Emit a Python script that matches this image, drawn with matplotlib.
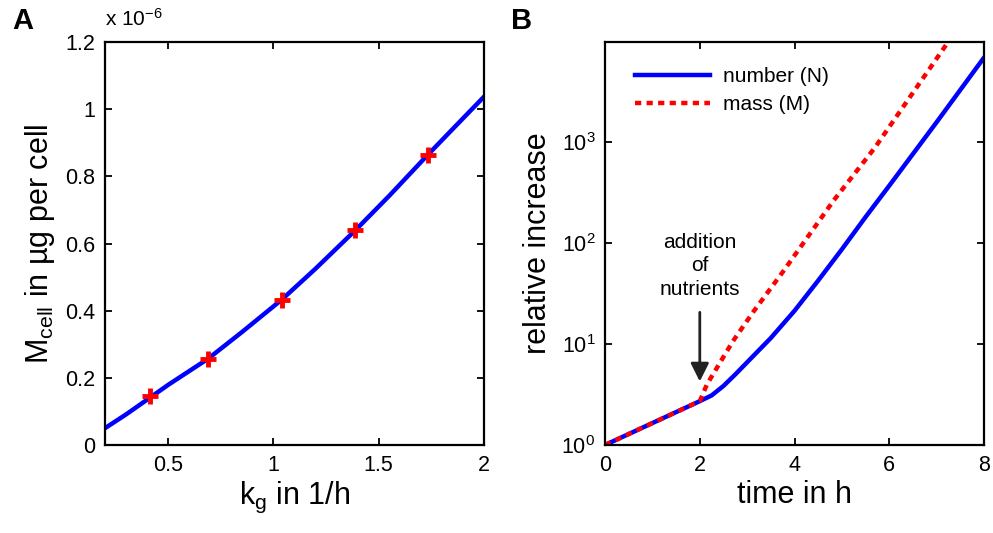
import matplotlib
matplotlib.use("Agg")
import matplotlib.pyplot as plt

plt.rcParams['font.family'] = ['Liberation Sans', 'DejaVu Sans']
plt.rcParams['mathtext.fontset'] = 'custom'
plt.rcParams['mathtext.rm'] = 'Liberation Sans'
plt.rcParams['mathtext.it'] = 'Liberation Sans'

# panel A: cell mass vs growth rate (values in 1e-6 ug)
kg_curve = [0.2, 0.3, 0.414, 0.5, 0.69, 0.85, 1.04, 1.2, 1.39, 1.55, 1.73, 1.85, 2.0]
m_curve = [0.050, 0.091, 0.141, 0.179, 0.257, 0.336, 0.433, 0.525, 0.640, 0.742, 0.862, 0.940, 1.037]
kg_data = [0.414, 0.69, 1.039, 1.387, 1.732]
m_data = [0.146, 0.256, 0.432, 0.640, 0.864]

# panel B: relative increase after nutrient addition
t_number = [0, 1, 2, 2.25, 2.5, 2.75, 3.0, 3.5, 4.0, 4.5, 5.0, 5.5, 6.0, 7.0, 8.0]
n_number = [1.0, 1.65, 2.72, 3.10, 3.85, 5.01, 6.61, 11.5, 21.4, 42.7, 87.1, 182, 372, 1585, 6920]
t_mass = [0, 1, 2, 2.15, 2.7, 3.13, 3.76, 4.82, 5.7, 7.25]
m_mass = [1.0, 1.65, 2.72, 3.98, 10.7, 20.9, 52.5, 263, 891, 10000]

fig = plt.figure(figsize=(9.93, 5.33), dpi=100)
axA = fig.add_axes([0.1057, 0.1651, 0.3817, 0.7561])
axB = fig.add_axes([0.6093, 0.1651, 0.3817, 0.7561])

for ax in (axA, axB):
    for s in ax.spines.values():
        s.set_linewidth(1.6)
    ax.tick_params(direction='in', top=True, right=True, length=5, width=1.3,
                   labelsize=15.5, pad=7)

# --- A ---
axA.plot(kg_curve, m_curve, color='#0000ff', lw=3.2, zorder=2)
axA.plot(kg_data, m_data, ls='none', marker='+', color='#ff0000', ms=11, mew=3.5, zorder=3)
axA.set_xlim(0.2, 2)
axA.set_ylim(0, 1.2)
axA.set_xticks([0.5, 1, 1.5, 2])
axA.set_xticklabels(['0.5', '1', '1.5', '2'])
axA.set_yticks([0, 0.2, 0.4, 0.6, 0.8, 1, 1.2])
axA.set_yticklabels(['0', '0.2', '0.4', '0.6', '0.8', '1', '1.2'])
axA.set_xlabel(r'k$_{\rm g}$ in 1/h', fontsize=22, labelpad=3)
axA.set_ylabel(r'M$_{\rm cell}$ in µg per cell', fontsize=22, labelpad=6)
axA.text(0.0, 1.03, r'x 10$^{-6}$', transform=axA.transAxes, fontsize=15,
         ha='left', va='bottom')
fig.text(0.012, 0.945, 'A', fontsize=21, fontweight='bold')

# --- B ---
axB.semilogy(t_number, n_number, color='#0000ff', lw=3.2, label='number (N)')
axB.semilogy(t_mass, m_mass, color='#ff0000', lw=3.2, ls=(0, (1.4, 1.2)), label='mass (M)')
axB.set_xlim(0, 8)
axB.set_ylim(1, 9860)
axB.set_xticks([0, 2, 4, 6, 8])
axB.set_yticks([1, 10, 100, 1000])
axB.set_yticklabels([r'10$^0$', r'10$^1$', r'10$^2$', r'10$^3$'])
axB.minorticks_off()
axB.set_xlabel('time in h', fontsize=22, labelpad=3)
axB.set_ylabel('relative increase', fontsize=22, labelpad=6)
axB.legend(loc='upper left', frameon=False, fontsize=15, handlelength=3.6,
           bbox_to_anchor=(0.03, 0.985), labelspacing=0.45, handletextpad=0.6)
axB.annotate('', xy=(2, 4.0), xytext=(2, 22),
             arrowprops=dict(arrowstyle='-|>,head_width=0.55,head_length=1.1',
                             color='#222222', lw=2))
axB.text(2, 60, 'addition\nof\nnutrients', ha='center', va='center',
         fontsize=15, linespacing=1.3)
fig.text(0.515, 0.945, 'B', fontsize=21, fontweight='bold')

fig.savefig('out.png', dpi=100)
